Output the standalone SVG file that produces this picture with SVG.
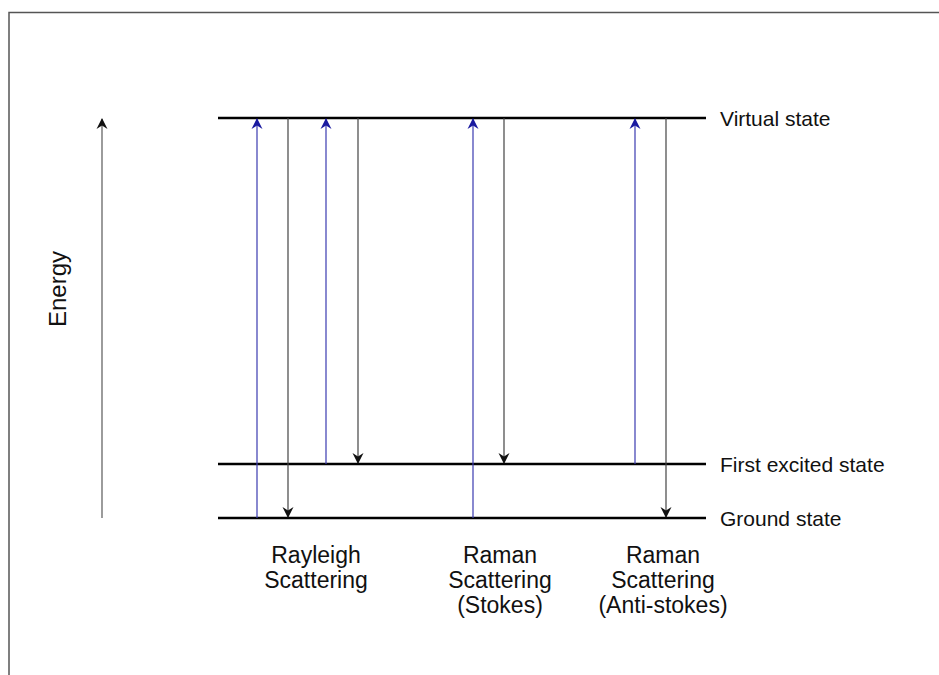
<svg xmlns="http://www.w3.org/2000/svg" width="939" height="675" viewBox="0 0 939 675">
<defs>
<marker id="ab" markerWidth="12" markerHeight="14" refX="10" refY="7" orient="auto" markerUnits="userSpaceOnUse">
<path d="M0,1.5 L11,7 L0,12.5 L3.5,7 Z" fill="#1a1aa0"/>
</marker>
<marker id="ak" markerWidth="12" markerHeight="14" refX="10" refY="7" orient="auto" markerUnits="userSpaceOnUse">
<path d="M0,1.5 L11,7 L0,12.5 L3.5,7 Z" fill="#111"/>
</marker>
</defs>
<style>
.lvl{stroke:#000;stroke-width:2.5}
.up{stroke:#3a3ab0;stroke-width:1.2;marker-end:url(#ab)}
.dn{stroke:#444;stroke-width:1.2;marker-end:url(#ak)}
text{font-family:"Liberation Sans",Arial,sans-serif;fill:#111}
.st{font-size:21px}
.lb{font-size:23px}
</style>
<rect width="939" height="675" fill="#fff"/>
<path d="M9,675 V12.5 H939" fill="none" stroke="#555" stroke-width="1.5"/>
<g id="axis">
<line x1="102" y1="518" x2="102" y2="119" stroke="#666" stroke-width="1.3" marker-end="url(#ak)"/>
<text transform="translate(66,289) rotate(-90)" text-anchor="middle" style="font-size:24px">Energy</text>
</g>
<g id="virtual"><line class="lvl" x1="218" y1="118" x2="706" y2="118"/><text class="st" x="720" y="125.5">Virtual state</text></g>
<g id="excited"><line class="lvl" x1="218" y1="464" x2="706" y2="464"/><text class="st" x="720" y="471.5">First excited state</text></g>
<g id="ground"><line class="lvl" x1="218" y1="518" x2="706" y2="518"/><text class="st" x="720" y="525.5">Ground state</text></g>
<g id="connectors">
<line class="up" x1="257" y1="518" x2="257" y2="119"/>
<line class="dn" x1="288" y1="118" x2="288" y2="517"/>
<line class="up" x1="326" y1="464" x2="326" y2="119"/>
<line class="dn" x1="358" y1="118" x2="358" y2="463"/>
<line class="up" x1="473" y1="518" x2="473" y2="119"/>
<line class="dn" x1="504" y1="118" x2="504" y2="463"/>
<line class="up" x1="635" y1="464" x2="635" y2="119"/>
<line class="dn" x1="666" y1="118" x2="666" y2="517"/>
</g>
<g id="rayleigh" class="lb"><text class="lb" x="316" y="563" text-anchor="middle">Rayleigh</text><text class="lb" x="316" y="588" text-anchor="middle">Scattering</text></g>
<g id="stokes"><text class="lb" x="500" y="563" text-anchor="middle">Raman</text><text class="lb" x="500" y="588" text-anchor="middle">Scattering</text><text class="lb" x="500" y="613" text-anchor="middle">(Stokes)</text></g>
<g id="antistokes"><text class="lb" x="663" y="563" text-anchor="middle">Raman</text><text class="lb" x="663" y="588" text-anchor="middle">Scattering</text><text class="lb" x="663" y="613" text-anchor="middle">(Anti-stokes)</text></g>
</svg>
